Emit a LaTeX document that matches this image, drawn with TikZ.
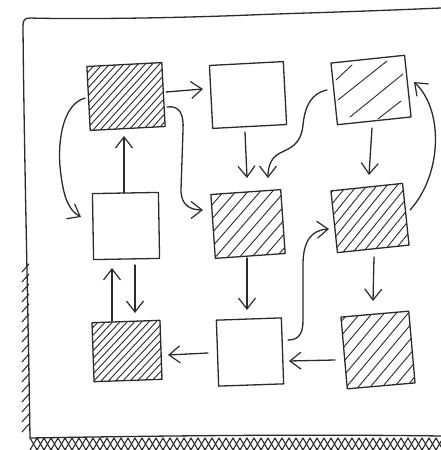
\documentclass[tikz,border=0pt]{standalone}
\usetikzlibrary{arrows.meta,calc}
\definecolor{inkc}{HTML}{2B2B2B}
\begin{document}
\begin{tikzpicture}[x=1pt,y=-1pt, line join=round, line cap=round,
  ink/.style={draw=inkc, line width=1.3pt},
  box/.style={ink, rectangle, inner sep=0pt},
  hatch/.style={path picture={\foreach \n [evaluate=\n as \k using \n*#1-140] in {0,...,30}
     \draw[inkc, line width=0.9pt] ([xshift=\k pt]path picture bounding box.south) -- ++(160,-160);}},
  conn/.style={ink, -{Straight Barb[length=11pt,width=17pt,line width=1.2pt]}}
]
\useasboundingbox (0,0) rectangle (441,450);
\fill[white] (0,0) rectangle (441,450);

% paper
\draw[ink] (441,8) .. controls (350,12) and (300,13) .. (250,15) .. controls (150,19) and (60,19) .. (30,18)
  .. controls (24,18) and (23,21) .. (23,26) .. controls (24,150) and (28,300) .. (30,438)
  .. controls (150,436) and (300,434) .. (441,436);
\foreach \x in {30,37,...,441} {
  \draw[inkc, line width=1.1pt] (\x,438) -- (\x+7,450);
  \draw[inkc, line width=1.1pt] (\x+7,438) -- (\x,450);
}
\foreach \y in {268,278,...,432}
  \draw[inkc, line width=1pt] (22,\y+4) -- (29,\y-4);

% boxes
\node[box, hatch=7.5, minimum width=75pt, minimum height=64pt, rotate=3] (a) at (126,96.5) {};
\node[box, minimum width=74pt, minimum height=63pt, rotate=3] (b) at (248,95) {};
\node[box, minimum width=74pt, minimum height=62pt, rotate=6] (c) at (371,90) {};
\node[box, minimum width=66pt, minimum height=66pt, rotate=1] (d) at (126,226) {};
\node[box, hatch=13, minimum width=70pt, minimum height=64pt, rotate=4] (e) at (248,224) {};
\node[box, hatch=11, minimum width=72pt, minimum height=62pt, rotate=6] (f) at (370,218) {};
\node[box, hatch=7.5, minimum width=68pt, minimum height=59pt, rotate=2] (g) at (127,351) {};
\node[box, minimum width=65pt, minimum height=66pt, rotate=2] (h) at (250,352) {};
\node[box, hatch=13, minimum width=68pt, minimum height=72pt, rotate=5] (i) at (378,350) {};

% sparse hatching of c
\draw[inkc, line width=0.9pt] (336,80) -- (352,65);
\draw[inkc, line width=0.9pt] (338,100) -- (387,61);
\draw[inkc, line width=0.9pt] (350,117) -- (403,74);
\draw[inkc, line width=0.9pt] (378,119) -- (401,101);

% connectors
\draw[conn] ($(a.center)+(40,-4.5)$) -- ($(b.center)+(-45,-6)$);
\draw[conn] ($(a.center)+(41,10.5)$) .. controls (180,105) and (184,115) .. (183,130)
   -- (181,190) .. controls (181,205) and (190,210) .. ($(e.center)+(-45,-14)$);
\draw[conn] ($(a.center)+(-41,1.5)$) .. controls (60,105) and (57,150) .. (61,175)
   .. controls (64,200) and (70,211) .. ($(d.center)+(-45,-9)$);
\draw[conn] ($(d.center)+(-2,-33)$) -- ($(a.center)+(-2,39.5)$);
\draw[conn] ($(b.center)+(-3,37)$) -- ($(e.center)+(-1,-46)$);
\draw[conn] ($(c.center)+(-44,0)$) .. controls (312,93) and (305,105) .. (303,125)
   .. controls (301,145) and (290,148) .. (280,153) .. controls (270,158) and (268,168) .. ($(e.center)+(20,-46)$);
\draw[conn] ($(c.center)+(1,38)$) -- ($(f.center)+(-1,-43)$);
\draw[conn] ($(f.center)+(40,-8)$) .. controls (442,175) and (444,110) .. ($(c.center)+(43,-8)$);
\draw[conn] ($(e.center)+(-1,34)$) -- ($(h.center)+(-3,-42)$);
\draw[conn] ($(h.center)+(38,-12)$) .. controls (300,340) and (303,332) .. (303,320)
   -- (303,265) .. controls (303,240) and (312,230) .. ($(f.center)+(-41,11)$);
\draw[conn] ($(f.center)+(4,39)$) -- ($(i.center)+(-5,-49)$);
\draw[conn] ($(i.center)+(-43,10)$) -- ($(h.center)+(39,9)$);
\draw[conn] ($(h.center)+(-42,1)$) -- ($(g.center)+(41,4)$);
\draw[conn] ($(g.center)+(-15,-30)$) -- ($(d.center)+(-14,42)$);
\draw[conn] ($(d.center)+(9,39)$) -- ($(g.center)+(8,-38)$);
\end{tikzpicture}
\end{document}
